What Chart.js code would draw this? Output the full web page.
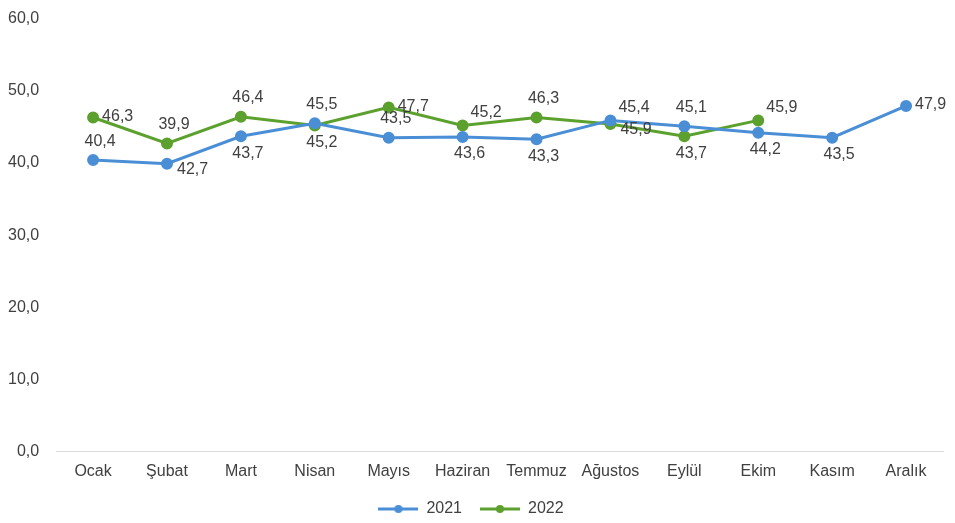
<!DOCTYPE html>
<html lang="tr">
<head>
  <meta charset="UTF-8">
  <title>2021 - 2022</title>
  <style>
    body {
      margin: 0;
      background: #ffffff;
    }
    #wrap {
      width: 955px;
      height: 523px;
    }
  </style>
</head>
<body>
  <div id="wrap"><canvas id="chart" width="955" height="523"></canvas></div>
  <script src="https://cdn.jsdelivr.net/npm/chart.js"></script>
  <script>
    const months = ["Ocak", "Şubat", "Mart", "Nisan", "Mayıs", "Haziran", "Temmuz", "Ağustos", "Eylül", "Ekim", "Kasım", "Aralık"];
    // plotted values (as read from the point positions)
    const values2021 = [40.4, 39.9, 43.7, 45.5, 43.5, 43.6, 43.3, 45.9, 45.1, 44.2, 43.5, 47.9];
    const values2022 = [46.3, 42.7, 46.4, 45.2, 47.7, 45.2, 46.3, 45.4, 43.7, 45.9, null, null];
    // label texts as printed next to each point in the original
    const labels2021 = [40.4, 42.7, 43.7, 45.5, 43.5, 43.6, 43.3, 45.4, 45.1, 44.2, 43.5, 47.9];
    const labels2022 = [46.3, 39.9, 46.4, 45.2, 47.7, 45.2, 46.3, 45.9, 43.7, 45.9, null, null];
    const yTicks = [0, 10, 20, 30, 40, 50, 60];

    // where each value label sits relative to its point
    const labelPos2021 = ["t", "br", "b", "t", "t", "b", "b", "tr", "t", "b", "b", "r"];
    const labelPos2022 = ["r", "t", "t", "b", "r", "tr", "t", "br", "b", "tr", null, null];

    const blue = "#4a8fd6";
    const green = "#5ca12e";
    const textColor = "#404040";
    const font = "'Liberation Sans', Arial, sans-serif";

    const fmt = v => v.toFixed(1).replace(".", ",");

    function legendIcon(color) {
      const c = document.createElement("canvas");
      c.width = 40;
      c.height = 10;
      const g = c.getContext("2d");
      g.strokeStyle = color;
      g.lineWidth = 3;
      g.beginPath();
      g.moveTo(0, 5);
      g.lineTo(40, 5);
      g.stroke();
      g.fillStyle = color;
      g.beginPath();
      g.arc(20, 5, 4, 0, Math.PI * 2);
      g.fill();
      return c;
    }

    const valueLabels = {
      id: "valueLabels",
      afterDatasetsDraw(chart) {
        const ctx = chart.ctx;
        ctx.save();
        ctx.font = "16px " + font;
        ctx.fillStyle = textColor;
        ctx.textBaseline = "middle";
        chart.data.datasets.forEach((ds, i) => {
          const meta = chart.getDatasetMeta(i);
          meta.data.forEach((pt, j) => {
            const v = ds.valueLabels[j];
            if (v === null || v === undefined) return;
            const pos = ds.labelPos[j];
            let x = pt.x, y = pt.y;
            if (pos === "t") { ctx.textAlign = "center"; x += 7; y -= 19; }
            else if (pos === "b") { ctx.textAlign = "center"; x += 7; y += 17; }
            else if (pos === "r") { ctx.textAlign = "left"; x += 9; y -= 1; }
            else if (pos === "tr") { ctx.textAlign = "left"; x += 8; y -= 13; }
            else if (pos === "br") { ctx.textAlign = "left"; x += 10; y += 6; }
            ctx.fillText(fmt(v), x, y);
          });
        });
        ctx.restore();
      }
    };

    new Chart(document.getElementById("chart"), {
      type: "line",
      data: {
        labels: months,
        datasets: [
          {
            label: "2021",
            data: values2021,
            valueLabels: labels2021,
            labelPos: labelPos2021,
            borderColor: blue,
            backgroundColor: blue,
            borderWidth: 3,
            pointRadius: 4.5,
            pointHoverRadius: 4.5,
            tension: 0,
            legendIcon: legendIcon(blue)
          },
          {
            label: "2022",
            data: values2022,
            valueLabels: labels2022,
            labelPos: labelPos2022,
            borderColor: green,
            backgroundColor: green,
            borderWidth: 3,
            pointRadius: 4.5,
            pointHoverRadius: 4.5,
            tension: 0,
            legendIcon: legendIcon(green)
          }
        ]
      },
      options: {
        responsive: false,
        animation: false,
        layout: { padding: { top: -3, right: 12, left: -1, bottom: -4 } },
        scales: {
          x: {
            offset: true,
            grid: { display: false },
            border: { display: true, color: "#d9d9d9", width: 1 },
            ticks: {
              color: textColor,
              font: { family: font, size: 16 },
              padding: 2,
              maxRotation: 0,
              autoSkip: false
            }
          },
          y: {
            min: 0,
            max: 60,
            grid: { display: false },
            border: { display: false },
            afterBuildTicks: axis => { axis.ticks = yTicks.map(v => ({ value: v })); },
            ticks: {
              color: textColor,
              font: { family: font, size: 16 },
              padding: 9,
              callback: v => fmt(v)
            }
          }
        },
        plugins: {
          tooltip: { enabled: false },
          legend: {
            position: "bottom",
            labels: {
              color: textColor,
              font: { family: font, size: 16 },
              usePointStyle: true,
              pointStyleWidth: 40,
              padding: 18,
              generateLabels: chart => chart.data.datasets.map((ds, i) => ({
                text: ds.label,
                datasetIndex: i,
                pointStyle: ds.legendIcon,
                fontColor: textColor,
                hidden: false
              }))
            }
          }
        }
      },
      plugins: [valueLabels]
    });
  </script>
</body>
</html>
